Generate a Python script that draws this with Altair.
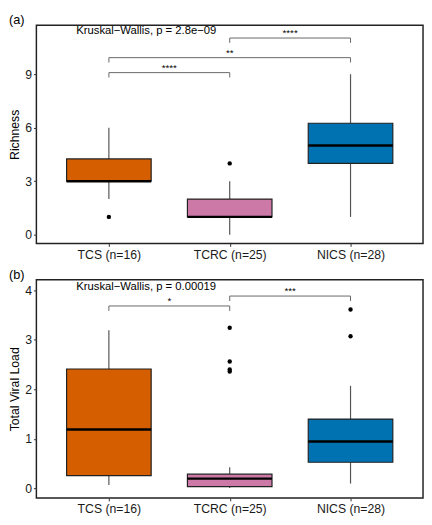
import json
import altair as alt
import pandas as pd

FONT = "Liberation Sans"

groups = ["TCS (n=16)", "TCRC (n=25)", "NICS (n=28)"]
positions = [1, 2, 3]
colors = ["#D55E00", "#CC79A7", "#0072B2"]

# Panel (a): Richness
rich_lower = [2, 0, 1]
rich_q1 = [3, 1, 4]
rich_median = [3, 1, 5]
rich_q3 = [4.25, 2, 6.25]
rich_upper = [6, 3, 9]
rich_out_group = ["TCS (n=16)", "TCRC (n=25)"]
rich_out_pos = [1, 2]
rich_out_val = [1, 4]
rich_br_x1 = [1, 1, 2]
rich_br_x2 = [2, 3, 3]
rich_br_y = [9.09, 9.93, 11.03]
rich_br_label = ["****", "**", "****"]
rich_tip = 0.27
rich_kw = "Kruskal\u2212Wallis, p = 2.8e\u221209"
rich_kw_x = 0.73
rich_kw_y = 11.4
rich_domain = [-0.49, 11.75]
rich_ticks = [0, 3, 6, 9]

# Panel (b): Total Viral Load
vl_lower = [0.07, 0.01, 0.1]
vl_q1 = [0.26, 0.04, 0.53]
vl_median = [1.19, 0.2, 0.95]
vl_q3 = [2.41, 0.29, 1.40]
vl_upper = [3.19, 0.43, 2.07]
vl_out_group = ["TCRC (n=25)"] * 4 + ["NICS (n=28)"] * 2
vl_out_pos = [2, 2, 2, 2, 3, 3]
vl_out_val = [3.24, 2.56, 2.40, 2.36, 3.61, 3.07]
vl_br_x1 = [1, 2]
vl_br_x2 = [2, 3]
vl_br_y = [3.68, 3.88]
vl_br_label = ["*", "***"]
vl_tip = 0.1
vl_kw = "Kruskal\u2212Wallis, p = 0.00019"
vl_kw_x = 0.73
vl_kw_y = 4.07
vl_domain = [-0.19, 4.21]
vl_ticks = [0, 1, 2, 3, 4]

W, H = 395, 223
label_expr = json.dumps(groups) + "[datum.value - 1]"


def panel(lower, q1, med, q3, upper, og, op, ov, bx1, bx2, by, blab, tip,
          kw, kwx, kwy, domain, ticks, ytitle, ptitle):
    box = pd.DataFrame({"group": groups, "pos": positions, "lower": lower,
                        "q1": q1, "median": med, "q3": q3, "upper": upper})
    out = pd.DataFrame({"group": og, "pos": op, "value": ov})
    br = pd.DataFrame({"x1": bx1, "x2": bx2, "y": by, "label": blab})
    kwdf = pd.DataFrame({"x": [kwx], "y": [kwy], "label": [kw]})

    xscale = alt.Scale(domain=[0.4, 3.6], nice=False, zero=False)
    xaxis = alt.Axis(values=positions, labelExpr=label_expr, title=None,
                     grid=False, domain=False, tickSize=3, labelPadding=2,
                     labelFontSize=12.5, labelColor="#1a1a1a", tickColor="#333")
    yscale = alt.Scale(domain=domain, nice=False, zero=False)
    yaxis = alt.Axis(values=ticks, title=ytitle, grid=False, domain=False,
                     tickSize=3, labelPadding=2, labelFontSize=12.5,
                     labelColor="#1a1a1a", tickColor="#333", titleFontSize=12.5,
                     titleFontWeight="normal", titlePadding=3, titleColor="black")

    def X(f):
        return alt.X(f, type="quantitative", scale=xscale, axis=xaxis)

    def Y(f):
        return alt.Y(f, type="quantitative", scale=yscale, axis=yaxis)

    color = alt.Color("group:N", scale=alt.Scale(domain=groups, range=colors),
                      legend=None)

    base = alt.Chart(box).transform_calculate(
        xl="datum.pos - 0.35", xr="datum.pos + 0.35")
    wl = base.mark_rule(color="#555", strokeWidth=1.2).encode(
        x=X("pos"), y=Y("lower"), y2="q1")
    wu = base.mark_rule(color="#555", strokeWidth=1.2).encode(
        x=X("pos"), y=Y("q3"), y2="upper")
    bars = base.mark_bar(stroke="#222", strokeWidth=1.2).encode(
        x=X("xl"), x2="xr", y=Y("q1"), y2="q3", color=color)
    meds = base.mark_rule(color="black", strokeWidth=2.5).encode(
        x=X("xl"), x2="xr", y=Y("median"))
    pts = alt.Chart(out).mark_circle(size=20, color="black", opacity=1).encode(
        x=X("pos"), y=Y("value"))

    brh = alt.Chart(br).mark_rule(color="#666", strokeWidth=1).encode(
        x=X("x1"), x2="x2", y=Y("y"))
    bre = alt.Chart(br).transform_fold(["x1", "x2"], as_=["k", "xe"]).transform_calculate(
        yb=f"datum.y - {tip}").mark_rule(color="#666", strokeWidth=1).encode(
        x=X("xe"), y=Y("y"), y2="yb")
    brt = alt.Chart(br).transform_calculate(xm="(datum.x1 + datum.x2) / 2").mark_text(
        fontSize=10, baseline="alphabetic", dy=-2, color="black", font=FONT).encode(
        x=X("xm"), y=Y("y"), text="label:N")
    kwt = alt.Chart(kwdf).mark_text(fontSize=11.5, align="left", baseline="middle",
                                    color="black", font=FONT).encode(
        x=X("x"), y=Y("y"), text="label:N")

    return alt.layer(wl, wu, bars, meds, pts, brh, bre, brt, kwt).properties(
        width=W, height=H,
        view=alt.ViewBackground(stroke="#222", strokeWidth=1.5),
        title=alt.TitleParams(ptitle, anchor="start", frame="bounds", fontSize=13,
                              fontWeight="normal", offset=-2, font=FONT, color="black"))


pa = panel(rich_lower, rich_q1, rich_median, rich_q3, rich_upper,
           rich_out_group, rich_out_pos, rich_out_val,
           rich_br_x1, rich_br_x2, rich_br_y, rich_br_label, rich_tip,
           rich_kw, rich_kw_x, rich_kw_y, rich_domain, rich_ticks, "Richness", "(a)")
pb = panel(vl_lower, vl_q1, vl_median, vl_q3, vl_upper,
           vl_out_group, vl_out_pos, vl_out_val,
           vl_br_x1, vl_br_x2, vl_br_y, vl_br_label, vl_tip,
           vl_kw, vl_kw_x, vl_kw_y, vl_domain, vl_ticks, "Total Viral Load", "(b)")

chart = alt.vconcat(pa, pb, spacing=6).properties(padding=0).configure_view(
    stroke="#222", strokeWidth=1.5).configure_axis(
    labelFont=FONT, titleFont=FONT).configure(background="white")

chart.save("out.html", embed_options={"renderer": "svg", "actions": False})
